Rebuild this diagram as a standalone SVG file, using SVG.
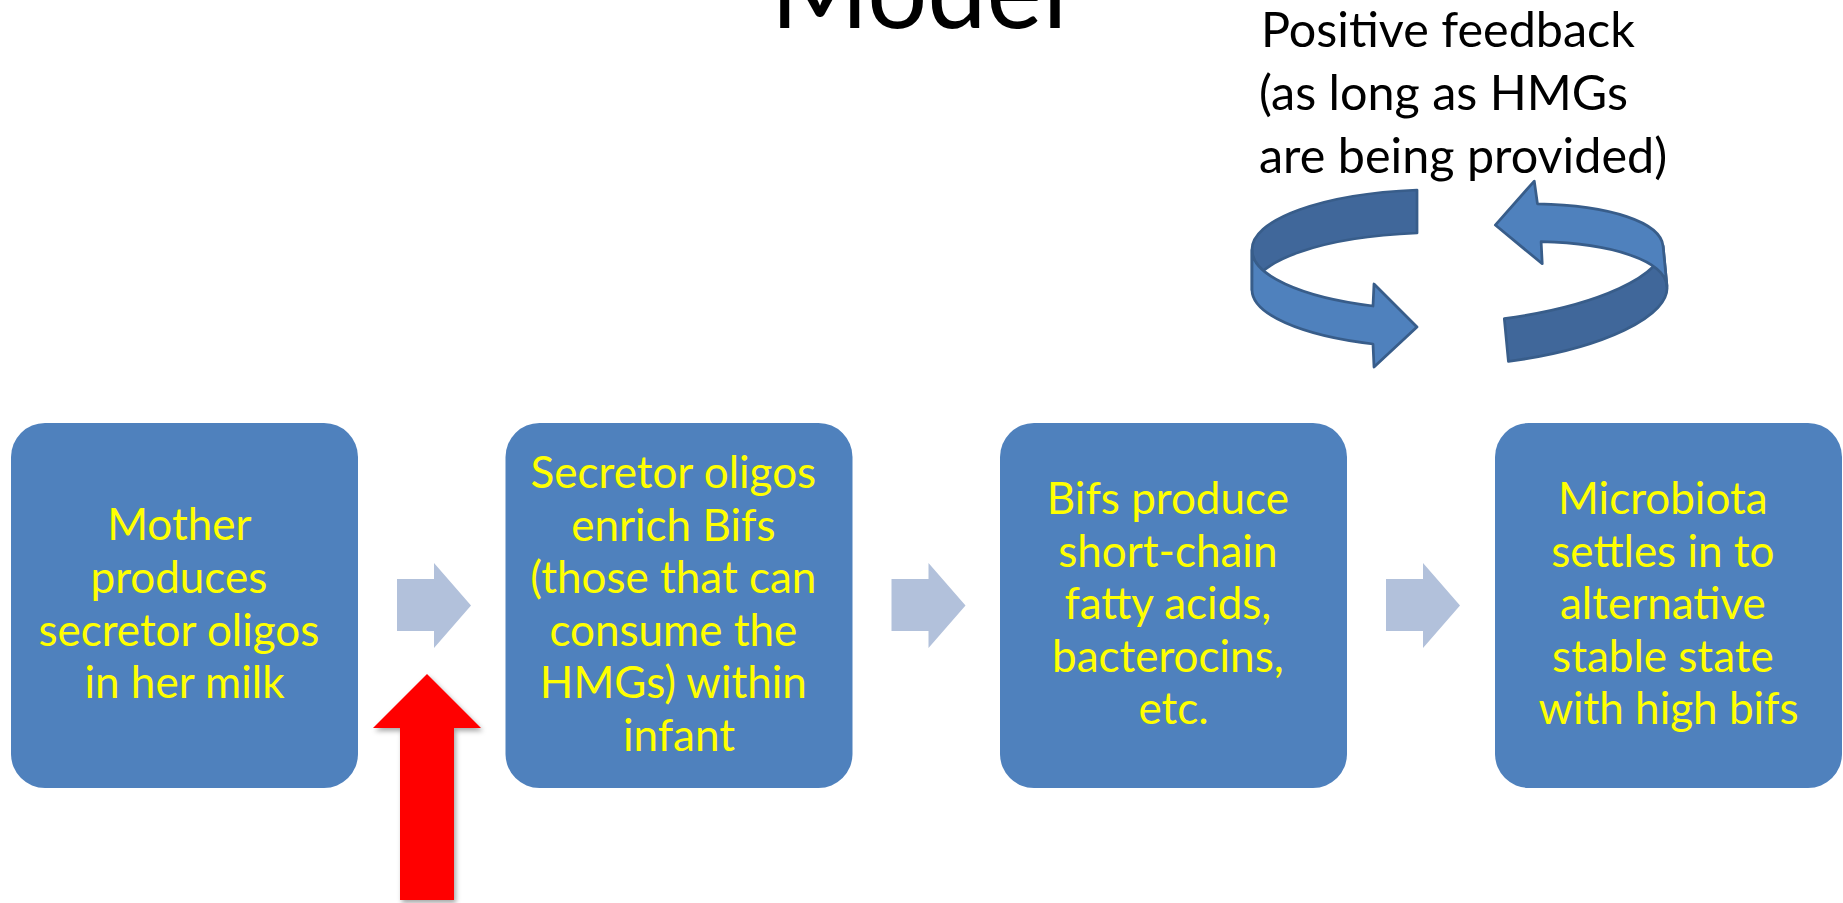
<svg xmlns="http://www.w3.org/2000/svg" width="1843" height="903" viewBox="0 0 1843 903">
  <style>
    .title { font-family: Lato, "Liberation Sans", sans-serif; font-size: 106px; fill: #000; }
    .note { font-family: Lato, "Liberation Sans", sans-serif; font-size: 48.5px; fill: #000; }
    .box { fill: #4F81BD; }
    .lbl { font-family: Lato, "Liberation Sans", sans-serif; font-size: 44px; fill: #FFFF00; text-anchor: middle; }
    .step { fill: #B2C1DB; }
    .ring-front { fill: #4F81BD; stroke: #385D8A; stroke-width: 2.75; stroke-linejoin: round; }
    .ring-back { fill: #40679A; stroke: #385D8A; stroke-width: 2.75; stroke-linejoin: round; }
  </style>
  <defs>
    <filter id="shadow" x="-30%" y="-10%" width="160%" height="130%">
      <feDropShadow dx="2" dy="3" stdDeviation="2.5" flood-color="#000" flood-opacity="0.35"/>
    </filter>
    <!-- one half of the circular feedback arrow: back wall then front wall with head -->
    <g id="ring">
      <path class="ring-back" d="M1417,190 A188,60 0 0 0 1252,250 L1252,290 A188,58 0 0 1 1417,233 Z"/>
      <path class="ring-front" d="M1252,250 A188,60 0 0 0 1373,306 L1374,284 L1417,327 L1374,367 L1373,344 A188,58 0 0 1 1252,290 Z"/>
    </g>
  </defs>

  <rect width="1843" height="903" fill="#FFFFFF"/>

  <text class="title" x="919" y="28" text-anchor="middle">Model</text>

  <text class="note">
    <tspan x="1261" y="47">Positive feedback</tspan>
    <tspan x="1259" y="110">(as long as HMGs</tspan>
    <tspan x="1259" y="173">are being provided)</tspan>
  </text>

  <g id="feedback-loop">
    <use href="#ring"/>
    <use href="#ring" transform="rotate(174.5 1458.6 277.9)"/>
  </g>

  <g id="node-mother">
    <rect class="box" x="11" y="423" width="347" height="365" rx="34"/>
    <text class="lbl">
      <tspan x="184.5" y="540">Mother</tspan>
      <tspan x="184.5" y="593">produces</tspan>
      <tspan x="184.5" y="645.5">secretor oligos</tspan>
      <tspan x="184.5" y="698">in her milk</tspan>
    </text>
  </g>

  <g id="node-enrich">
    <rect class="box" x="505.5" y="423" width="347" height="365" rx="34"/>
    <text class="lbl">
      <tspan x="679" y="488">Secretor oligos</tspan>
      <tspan x="679" y="540.5">enrich Bifs</tspan>
      <tspan x="679" y="593">(those that can</tspan>
      <tspan x="679" y="645.5">consume the</tspan>
      <tspan x="679" y="698">HMGs) within</tspan>
      <tspan x="679" y="750.5">infant</tspan>
    </text>
  </g>

  <g id="node-produce">
    <rect class="box" x="1000" y="423" width="347" height="365" rx="34"/>
    <text class="lbl">
      <tspan x="1173.5" y="514">Bifs produce</tspan>
      <tspan x="1173.5" y="566.5">short-chain</tspan>
      <tspan x="1173.5" y="619">fatty acids,</tspan>
      <tspan x="1173.5" y="671.5">bacterocins,</tspan>
      <tspan x="1173.5" y="724">etc.</tspan>
    </text>
  </g>

  <g id="node-stable">
    <rect class="box" x="1495" y="423" width="347" height="365" rx="34"/>
    <text class="lbl">
      <tspan x="1668.5" y="514">Microbiota</tspan>
      <tspan x="1668.5" y="566.5">settles in to</tspan>
      <tspan x="1668.5" y="619">alternative</tspan>
      <tspan x="1668.5" y="671.5">stable state</tspan>
      <tspan x="1668.5" y="724">with high bifs</tspan>
    </text>
  </g>

  <g id="connectors">
    <path class="step" d="M397,579 H434 V563 L471,605.5 L434,648 V631 H397 Z"/>
    <path class="step" d="M891.5,579 H928.5 V563 L965.5,605.5 L928.5,648 V631 H891.5 Z"/>
    <path class="step" d="M1386,579 H1423 V563 L1460,605.5 L1423,648 V631 H1386 Z"/>
    <path fill="#FF0000" filter="url(#shadow)" d="M427,674 L481,728 H454 V900 H400 V728 H373 Z"/>
  </g>
</svg>
